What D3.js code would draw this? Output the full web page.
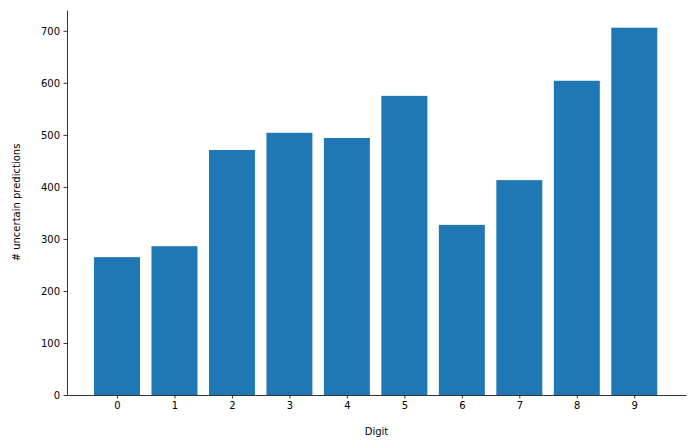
<!DOCTYPE html>
<html><head><meta charset="utf-8">
<script src="https://cdn.jsdelivr.net/npm/d3@7"></script>
<style>body{margin:0;background:#fff}text{font-family:"DejaVu Sans",sans-serif}</style>
</head><body><svg id="c" width="695" height="448"></svg>
<script>
const digits = [0,1,2,3,4,5,6,7,8,9];
const counts = [265,286,471,504,494,575,327,413,604,706];
const yTicks = [0,100,200,300,400,500,600,700];

const svg = d3.select("#c");
const L=67, R=686, T=10, B=395;
const x = d3.scaleLinear().domain([-0.87, 9.9]).range([L, R]);
const y = d3.scaleLinear().domain([0, 740]).range([B, T]);
const bw = x(0.4)-x(-0.4);

svg.selectAll("rect").data(digits).join("rect")
  .attr("x", d=>x(d)-bw/2).attr("width", bw)
  .attr("y", (d,i)=>y(counts[i])).attr("height",(d,i)=>B-y(counts[i]))
  .attr("fill","#1f77b4");

const xa = svg.append("g").attr("transform",`translate(0,${B})`)
  .call(d3.axisBottom(x).tickValues(digits).tickFormat(d3.format("d")).tickSize(3.5).tickPadding(3.5).tickSizeOuter(0));
const ya = svg.append("g").attr("transform",`translate(${L},0)`)
  .call(d3.axisLeft(y).tickValues(yTicks).tickSize(3.5).tickPadding(3.5).tickSizeOuter(0));
[xa,ya].forEach(g=>{g.selectAll("text").attr("font-size",10).attr("fill","#000").style("font-family","DejaVu Sans");
  g.selectAll("line,path").attr("stroke","#000").attr("stroke-width",0.8);});

svg.append("text").attr("x",(L+R)/2).attr("y",435).attr("text-anchor","middle").attr("font-size",10).text("Digit");
svg.append("text").attr("transform",`translate(20,${(T+B)/2}) rotate(-90)`).attr("text-anchor","middle").attr("font-size",10).text("# uncertain predictions");
</script></body></html>
